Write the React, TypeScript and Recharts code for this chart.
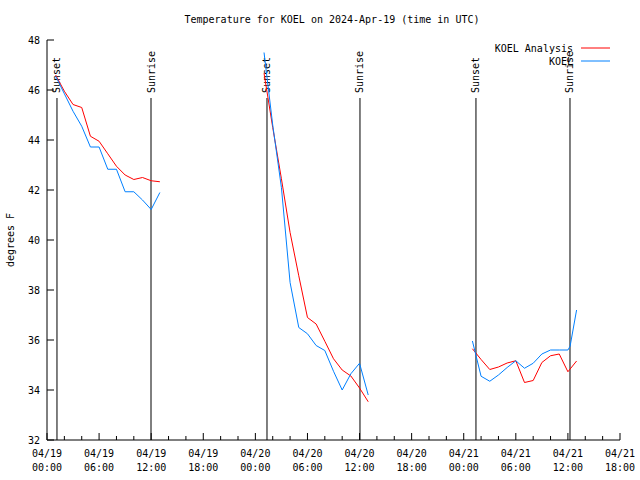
import React from 'react';
import { LineChart, Line, XAxis, YAxis, ReferenceLine, Legend } from 'recharts';

// hours since 04/19 00:00 UTC, null = gap between nights
const analysisHours = [1, 2, 3, 4, 5, 6, 7, 8, 9, 10, 11, 12, 13, 19,
    25, 26, 27, 28, 29, 30, 31, 32, 33, 34, 35, 36, 37, 43,
    49, 50, 51, 52, 53, 54, 55, 56, 57, 58, 59, 60, 61];
const analysisTemps = [46.6, 45.95, 45.42, 45.3, 44.15, 43.95, 43.45, 42.95, 42.6, 42.42, 42.5, 42.37, 42.33, null,
    46.67, 44.5, 42.45, 40.3, 38.57, 36.9, 36.64, 35.95, 35.25, 34.8, 34.56, 34.08, 33.53, null,
    35.65, 35.22, 34.82, 34.92, 35.08, 35.17, 34.3, 34.38, 35.1, 35.37, 35.44, 34.73, 35.16];

const obsHours = [1, 2, 3, 4, 5, 6, 7, 8, 9, 10, 11, 12, 13, 19,
    25, 26, 27, 28, 29, 30, 31, 32, 33, 34, 35, 36, 37, 43,
    49, 50, 51, 52, 53, 54, 55, 56, 57, 58, 59, 60, 60.25, 61];
const obsTemps = [46.55, 45.85, 45.15, 44.55, 43.72, 43.72, 42.83, 42.83, 41.93, 41.93, 41.6, 41.22, 41.9, null,
    47.5, 44.6, 42.1, 38.3, 36.5, 36.25, 35.78, 35.58, 34.75, 34.0, 34.65, 35.07, 33.8, null,
    35.96, 34.55, 34.35, 34.6, 34.9, 35.17, 34.87, 35.07, 35.44, 35.6, 35.6, 35.6, 35.75, 37.2];

const sunHours = [1.15, 11.98, 25.34, 36.05, 49.41, 60.24];
const sunLabels = ['Sunset', 'Sunrise', 'Sunset', 'Sunrise', 'Sunset', 'Sunrise'];

const xTicks = Array.from({ length: 34 }, (_, i) => i * 2);
const yTicks = [32, 34, 36, 38, 40, 42, 44, 46, 48];
const days = ['04/19', '04/20', '04/21'];

const FONT = '"DejaVu Sans Mono", monospace';
const RED = '#ff0000';
const BLUE = '#0080ff';

const analysisData = analysisHours.map((t, i) => ({ t, v: analysisTemps[i] }));
const obsData = obsHours.map((t, i) => ({ t, v: obsTemps[i] }));

function BottomTick({ x, y, payload }: any) {
    const t = payload.value;
    const major = t % 6 === 0;
    const hh = String(t % 24).padStart(2, '0');
    return (
        <g>
            <line x1={x} x2={x} y1={y} y2={y - (major ? 7 : 4)} stroke="#000" />
            {major && (
                <text x={x} y={y} textAnchor="middle" fontSize={10} fontFamily={FONT} fill="#000">
                    <tspan x={x} dy={17}>{days[Math.floor(t / 24)]}</tspan>
                    <tspan x={x} dy={14}>{hh}:00</tspan>
                </text>
            )}
        </g>
    );
}

function TopTick({ x, y, payload }: any) {
    const major = payload.value % 6 === 0;
    return <line x1={x} x2={x} y1={y} y2={y + (major ? 7 : 4)} stroke="#000" />;
}

function LeftTick({ x, y, payload }: any) {
    return (
        <g>
            <line x1={x} x2={x + 7} y1={y} y2={y} stroke="#000" />
            <text x={x - 7} y={y + 4} textAnchor="end" fontSize={10} fontFamily={FONT} fill="#000">
                {payload.value}
            </text>
        </g>
    );
}

function RightTick({ x, y }: any) {
    return <line x1={x} x2={x - 7} y1={y} y2={y} stroke="#000" />;
}

function sunShape(label: string) {
    return (props: any) => {
        const top = Math.min(props.y1, props.y2);
        const bottom = Math.max(props.y1, props.y2);
        const x = props.x1;
        return (
            <g>
                <line x1={x} x2={x} y1={top + 58} y2={bottom} stroke="#000" strokeWidth={1} />
                <text
                    x={x} y={top + 53}
                    transform={`rotate(-90 ${x} ${top + 53})`}
                    dominantBaseline="central"
                    fontSize={10} fontFamily={FONT} fill="#000"
                >
                    {label}
                </text>
            </g>
        );
    };
}

const renderLegend = () => (
    <svg width={150} height={32}>
        <text x={93} y={13} textAnchor="end" fontSize={10} fontFamily={FONT} fill="#000">KOEL Analysis</text>
        <line x1={101} x2={130} y1={9} y2={9} stroke={RED} />
        <text x={93} y={26} textAnchor="end" fontSize={10} fontFamily={FONT} fill="#000">KOEL</text>
        <line x1={101} x2={130} y1={22} y2={22} stroke={BLUE} />
    </svg>
);

export default function App() {
    return (
        <div style={{ position: 'absolute', left: 0, top: 0, width: 640, height: 480, background: '#fff' }}>
            <svg width={640} height={480} style={{ position: 'absolute', left: 0, top: 0 }}>
                <text x={332} y={23} textAnchor="middle" fontSize={10} fontFamily={FONT} fill="#000">
                    Temperature for KOEL on 2024-Apr-19 (time in UTC)
                </text>
                <text
                    x={10} y={240} textAnchor="middle" dominantBaseline="central"
                    transform="rotate(-90 10 240)" fontSize={10} fontFamily={FONT} fill="#000"
                >
                    degrees F
                </text>
            </svg>
            <div style={{ position: 'absolute', left: 0, top: 0 }}>
                <LineChart width={640} height={480} margin={{ top: 40, right: 20, bottom: 0, left: 0 }}>
                    <XAxis
                        xAxisId="b" dataKey="t" type="number" domain={[0, 66]} ticks={xTicks}
                        interval={0} height={40} tickSize={0} tickMargin={0} tickLine={false}
                        axisLine={{ stroke: '#000' }} tick={<BottomTick />} allowDataOverflow
                    />
                    <XAxis
                        xAxisId="top" orientation="top" dataKey="t" type="number" domain={[0, 66]} ticks={xTicks}
                        interval={0} height={0} tickSize={0} tickMargin={0} tickLine={false}
                        axisLine={{ stroke: '#000' }} tick={<TopTick />} allowDataOverflow
                    />
                    <YAxis
                        yAxisId="l" type="number" domain={[32, 48]} ticks={yTicks} interval={0}
                        width={47} tickSize={0} tickMargin={0} tickLine={false}
                        axisLine={{ stroke: '#000' }} tick={<LeftTick />} allowDataOverflow
                    />
                    <YAxis
                        yAxisId="r" orientation="right" type="number" domain={[32, 48]} ticks={yTicks} interval={0}
                        width={0} tickSize={0} tickMargin={0} tickLine={false}
                        axisLine={{ stroke: '#000' }} tick={<RightTick />} allowDataOverflow
                    />
                    <Legend
                        layout="horizontal" verticalAlign="middle" align="center"
                        content={renderLegend}
                        wrapperStyle={{ position: 'absolute', left: 480, top: 39, width: 150, height: 32 }}
                    />
                    {sunHours.map((h, i) => (
                        <ReferenceLine
                            key={i} x={h} xAxisId="b" yAxisId="l"
                            stroke="#000" shape={sunShape(sunLabels[i])}
                        />
                    ))}
                    <Line
                        data={analysisData} dataKey="v" xAxisId="b" yAxisId="l" name="KOEL Analysis"
                        stroke={RED} strokeWidth={1} dot={false} connectNulls={false}
                        isAnimationActive={false} type="linear"
                    />
                    <Line
                        data={obsData} dataKey="v" xAxisId="b" yAxisId="l" name="KOEL"
                        stroke={BLUE} strokeWidth={1} dot={false} connectNulls={false}
                        isAnimationActive={false} type="linear"
                    />
                </LineChart>
            </div>
        </div>
    );
}
